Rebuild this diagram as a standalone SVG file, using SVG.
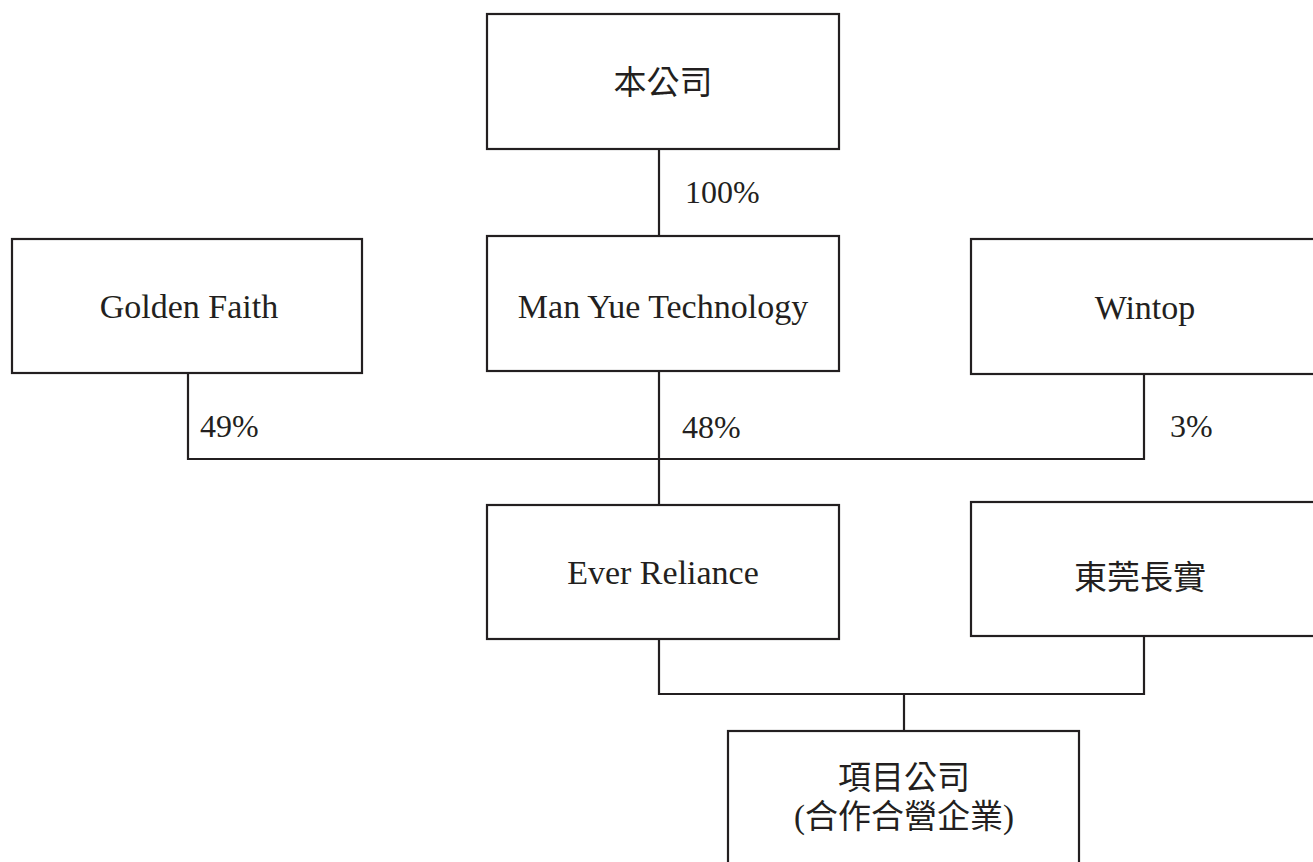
<svg xmlns="http://www.w3.org/2000/svg" width="1313" height="862" viewBox="0 0 1313 862">
<style>
.box{fill:#fff;stroke:#231f20;stroke-width:2.2}
.ln{fill:none;stroke:#231f20;stroke-width:2.2}
text{font-family:"Liberation Serif","Noto Sans CJK TC",serif;font-size:32px;fill:#231f20}
.c{text-anchor:middle}
.en{font-size:34px}
.zh{font-size:33px}
</style>
<rect width="1313" height="862" fill="#fff"/>
<g id="connectors">
<line class="ln" x1="659" y1="149" x2="659" y2="236"/>
<line class="ln" x1="659" y1="371" x2="659" y2="505"/>
<polyline class="ln" points="188,373 188,459 1144,459 1144,374"/>
<polyline class="ln" points="659,639 659,694 1144,694 1144,636"/>
<line class="ln" x1="904" y1="694" x2="904" y2="731"/>
<text x="685" y="203">100%</text>
<text x="200" y="437">49%</text>
<text x="682" y="438">48%</text>
<text x="1170" y="437">3%</text>
</g>
<g id="company">
<rect class="box" x="487" y="14" width="352" height="135"/>
<text class="c zh" x="663" y="94">本公司</text>
</g>
<g id="manyue">
<rect class="box" x="487" y="236" width="352" height="135"/>
<text class="c en" x="663" y="318">Man Yue Technology</text>
</g>
<g id="goldenfaith">
<rect class="box" x="12" y="239" width="350" height="134"/>
<text class="c en" x="189" y="318">Golden Faith</text>
</g>
<g id="wintop">
<rect class="box" x="971" y="239" width="360" height="135"/>
<text class="c en" x="1145" y="319">Wintop</text>
</g>
<g id="everreliance">
<rect class="box" x="487" y="505" width="352" height="134"/>
<text class="c en" x="663" y="584">Ever Reliance</text>
</g>
<g id="dongguan">
<rect class="box" x="971" y="502" width="360" height="134"/>
<text class="c zh" x="1140" y="589">東莞長實</text>
</g>
<g id="project">
<rect class="box" x="728" y="731" width="351" height="150"/>
<text class="c zh" x="904" y="789">項目公司</text>
<text class="c zh" x="904" y="828">(合作合營企業)</text>
</g>
</svg>
